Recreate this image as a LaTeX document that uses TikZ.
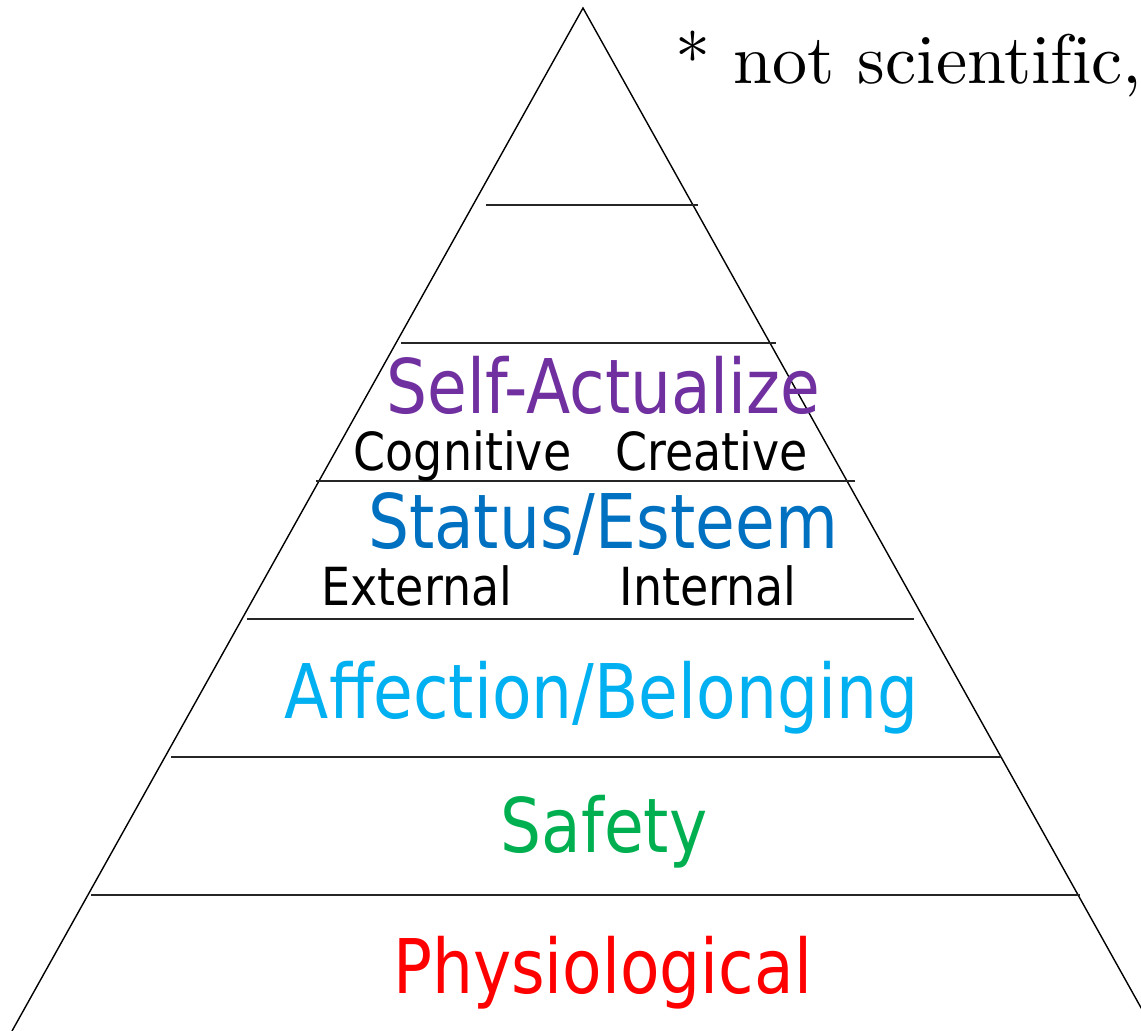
\documentclass[tikz,border=0pt]{standalone}
\usepackage{fontspec}
\newfontfamily\tahfont[FakeStretch=0.857]{DejaVu Sans}
\newfontfamily\tahsmall[FakeStretch=0.875]{DejaVu Sans}
\newfontfamily\lmten[Extension=.otf,Ligatures=NoCommon]{lmroman10-regular}
\definecolor{cphys}{HTML}{FF0000}
\definecolor{csafe}{HTML}{00B050}
\definecolor{caff}{HTML}{00B0F0}
\definecolor{cstat}{HTML}{0070C0}
\definecolor{cself}{HTML}{7030A0}
\tikzset{
  edge/.style={line width=1.4pt, black},
  level/.style={line width=1.6pt, black!85},
  bigtxt/.style={anchor=base, inner sep=0pt, font=\tahfont\fontsize{75.4}{80}\selectfont},
  smalltxt/.style={anchor=base, inner sep=0pt, font=\tahsmall\fontsize{52.5}{56}\selectfont, text=black},
  notetxt/.style={anchor=base west, inner sep=0pt, font=\lmten\fontsize{70}{75}\selectfont}
}
\begin{document}
\begin{tikzpicture}[x=1pt,y=-1pt]
\useasboundingbox (0,0) rectangle (1141,1031);
\coordinate (apex) at (583,8);
\coordinate (bl) at (12,1031);
\coordinate (br) at (1154,1031);
\draw[edge] (bl) -- (apex) -- (br);
% level lines
\coordinate (l1a) at (486,205); \coordinate (l1b) at (698,205);
\coordinate (l2a) at (401,343); \coordinate (l2b) at (776,343);
\coordinate (l3a) at (316,481); \coordinate (l3b) at (855,481);
\coordinate (l4a) at (247,619); \coordinate (l4b) at (914,619);
\coordinate (l5a) at (171,757); \coordinate (l5b) at (1001,757);
\coordinate (l6a) at (91,895);  \coordinate (l6b) at (1080,895);
\draw[level] (l1a) -- (l1b);
\draw[level] (l2a) -- (l2b);
\draw[level] (l3a) -- (l3b);
\draw[level] (l4a) -- (l4b);
\draw[level] (l5a) -- (l5b);
\draw[level] (l6a) -- (l6b);
% labels
\node[bigtxt, text=cself] (self) at (603.5,413) {Self-Actualize};
\node[smalltxt] (cog) at (462.5,470) {Cognitive};
\node[smalltxt] (cre) at (711.5,470) {Creative};
\node[bigtxt, text=cstat] (stat) at (603,548) {Status/Esteem};
\node[smalltxt] (ext) at (417,605) {External};
\node[smalltxt] (int) at (708,605) {Internal};
\node[bigtxt, text=caff] (aff) at (601.5,718) {Affection/Belonging};
\node[bigtxt, text=csafe] (safe) at (604,852) {Safety};
\node[bigtxt, text=cphys] (phys) at (602.5,993) {Physiological};
\node[notetxt] (note) at (675,83) {* not scientific,};
\end{tikzpicture}
\end{document}
